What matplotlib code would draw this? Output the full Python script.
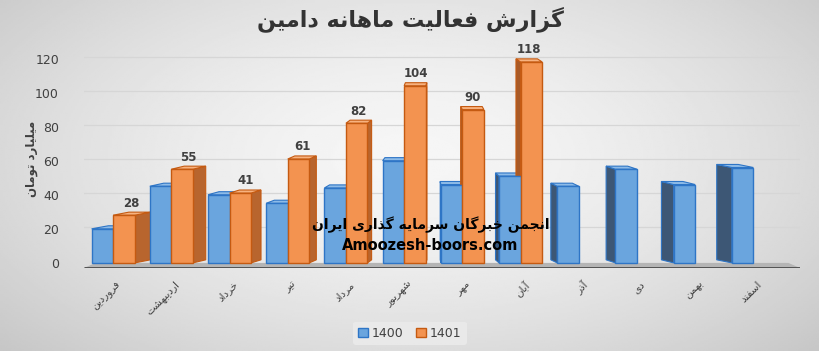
import numpy as np
import matplotlib
matplotlib.use("Agg")
import matplotlib.pyplot as plt
from matplotlib.patches import Polygon

# ---------------- data ----------------
months = ["فروردین", "اردیبهشت", "خرداد", "تیر", "مرداد", "شهریور",
          "مهر", "آبان", "آذر", "دی", "بهمن", "اسفند"]
values_1400 = [20, 45, 40, 35, 44, 60, 46, 51, 45, 55, 46, 56]
values_1401 = [28, 55, 41, 61, 82, 104, 90, 118]
series_names = ["1400", "1401"]
yticks = [0, 20, 40, 60, 80, 100, 120]
title = "گزارش فعالیت ماهانه دامین"
ylabel = "میلیارد تومان"
watermark1 = "انجمن خبرگان سرمایه گذاری ایران"
watermark2 = "Amoozesh-boors.com"

# ---------------- simple Arabic/Persian shaping ----------------
FORMS = {
    '\u0627': ('\uFE8D', '\uFE8E', None, None),
    '\u0622': ('\uFE81', '\uFE82', None, None),
    '\u0628': ('\uFE8F', '\uFE90', '\uFE91', '\uFE92'),
    '\u067E': ('\uFB56', '\uFB57', '\uFB58', '\uFB59'),
    '\u062A': ('\uFE95', '\uFE96', '\uFE97', '\uFE98'),
    '\u062B': ('\uFE99', '\uFE9A', '\uFE9B', '\uFE9C'),
    '\u062C': ('\uFE9D', '\uFE9E', '\uFE9F', '\uFEA0'),
    '\u062D': ('\uFEA1', '\uFEA2', '\uFEA3', '\uFEA4'),
    '\u062E': ('\uFEA5', '\uFEA6', '\uFEA7', '\uFEA8'),
    '\u062F': ('\uFEA9', '\uFEAA', None, None),
    '\u0630': ('\uFEAB', '\uFEAC', None, None),
    '\u0631': ('\uFEAD', '\uFEAE', None, None),
    '\u0632': ('\uFEAF', '\uFEB0', None, None),
    '\u0698': ('\uFB8A', '\uFB8B', None, None),
    '\u0633': ('\uFEB1', '\uFEB2', '\uFEB3', '\uFEB4'),
    '\u0634': ('\uFEB5', '\uFEB6', '\uFEB7', '\uFEB8'),
    '\u0639': ('\uFEC9', '\uFECA', '\uFECB', '\uFECC'),
    '\u0641': ('\uFED1', '\uFED2', '\uFED3', '\uFED4'),
    '\u0644': ('\uFEDD', '\uFEDE', '\uFEDF', '\uFEE0'),
    '\u0645': ('\uFEE1', '\uFEE2', '\uFEE3', '\uFEE4'),
    '\u0646': ('\uFEE5', '\uFEE6', '\uFEE7', '\uFEE8'),
    '\u0647': ('\uFEE9', '\uFEEA', '\uFEEB', '\uFEEC'),
    '\u0648': ('\uFEED', '\uFEEE', None, None),
    '\u06CC': ('\uFBFC', '\uFBFD', '\uFBFE', '\uFBFF'),
    '\u06A9': ('\uFB8E', '\uFB8F', '\uFB90', '\uFB91'),
    '\u06AF': ('\uFB92', '\uFB93', '\uFB94', '\uFB95'),
}


def shape(text):
    chars = list(text)
    out = []
    for i, c in enumerate(chars):
        if c not in FORMS:
            out.append(c)
            continue
        prev = chars[i - 1] if i > 0 else None
        nxt = chars[i + 1] if i + 1 < len(chars) else None
        jp = prev in FORMS and FORMS[prev][2] is not None
        jn = FORMS[c][2] is not None and nxt in FORMS
        f = FORMS[c]
        if jp and jn:
            g = f[3]
        elif jp:
            g = f[1]
        elif jn:
            g = f[2]
        else:
            g = f[0]
        out.append(g)
    return "".join(reversed(out))


plt.rcParams['font.family'] = ['DejaVu Sans']

fig = plt.figure(figsize=(8.2, 3.51), dpi=100)

# background radial gradient
bg = fig.add_axes([0, 0, 1, 1], zorder=-10)
yy, xx = np.mgrid[0:1:200j, 0:1:400j]
r = np.sqrt(((xx - 0.5) / 0.75) ** 2 + ((yy - 0.45) / 0.9) ** 2)
img = np.clip(0.965 - 0.22 * r ** 1.6, 0, 1)
bg.imshow(img, cmap='gray', vmin=0, vmax=1, aspect='auto', extent=[0, 1, 0, 1])
bg.axis('off')

ax = fig.add_axes([84 / 820, (351 - 268) / 351, (800 - 84) / 820, (268 - 50) / 351])
ax.set_facecolor('none')
ax.set_xlim(-0.5, 11.8)
ax.set_ylim(-3, 125)

n = len(months)
x = np.arange(n)
w = 0.37
xc = 5.6
k = 0.05
dy = 1.8

# gridlines
for t in yticks[1:]:
    ax.plot([-0.5, 11.8], [t + 1, t + 1], color='#d6d6d6', lw=0.9, zorder=0)

# floor
ax.add_patch(Polygon([[-0.5, -3], [11.8, -3], [11.6, 0], [-0.3, 0]],
                     closed=True, facecolor='#b5b5b5', edgecolor='none', zorder=1))
ax.plot([-0.5, 11.8], [-3, -3], color='#4a4a4a', lw=2, zorder=2, solid_capstyle='butt')

styles = {
    "1400": dict(front='#6aa5de', edge='#2e75c6', side='#3d5775', side_l='#4a7fbf', top='#8dbbe8'),
    "1401": dict(front='#f39350', edge='#c55a11', side='#a85a28', side_l='#b8652e', top='#f7b27f'),
}


def draw_bar(x0, v, st):
    x1 = x0 + w
    mid = (x0 + x1) / 2
    dx = -k * (mid - xc)
    if dx > 0:
        xe = x1
        col = st['side_l']
    else:
        xe = x0
        col = st['side']
    side = Polygon([[xe, 0], [xe + dx, dy], [xe + dx, v + dy], [xe, v]], closed=True,
                   facecolor=col, edgecolor=st['edge'], lw=0.8, zorder=3)
    ax.add_patch(side)
    top = Polygon([[x0, v], [x0 + dx, v + dy], [x1 + dx, v + dy], [x1, v]], closed=True,
                  facecolor=st['top'], edgecolor=st['edge'], lw=0.8, zorder=3)
    ax.add_patch(top)


# back faces first
for i, v in enumerate(values_1400):
    draw_bar(x[i] - w, v, styles["1400"])
for i, v in enumerate(values_1401):
    draw_bar(x[i], v, styles["1401"])

b1 = ax.bar(x - w, values_1400, width=w, align='edge', color=styles["1400"]['front'],
            edgecolor=styles["1400"]['edge'], lw=1.0, zorder=5, label=series_names[0])
b2 = ax.bar(x[:len(values_1401)], values_1401, width=w, align='edge',
            color=styles["1401"]['front'], edgecolor=styles["1401"]['edge'], lw=1.0,
            zorder=5, label=series_names[1])

for i, v in enumerate(values_1401):
    mid = x[i] + w / 2
    ax.text(mid - k * (mid - xc) / 2, v + dy + 1.5, str(v), ha='center', va='bottom',
            fontsize=8.5, fontweight='bold', color='#404040', zorder=6)

# axes styling
for s in ax.spines.values():
    s.set_visible(False)
ax.set_yticks(yticks)
ax.set_yticklabels([str(t) for t in yticks], fontsize=9, color='#404040')
ax.tick_params(axis='y', length=0, pad=18)
ax.set_xticks(x + 0.05)
ax.set_xticklabels([shape(m) for m in months], rotation=45, ha='right', va='top',
                   rotation_mode='anchor', fontsize=7.5, color='#404040')
ax.tick_params(axis='x', length=0, pad=8)

ax.set_ylabel(shape(ylabel), fontsize=8.5, fontweight='bold', color='#404040', labelpad=6)
ax.yaxis.set_label_coords(-0.064, 0.5)

fig.text(0.5, 0.945, shape(title), ha='center', va='center', fontsize=16,
         fontweight='bold', color='#333333')

ax.text(5.45, 22.5, shape(watermark1), ha='center', va='center', fontsize=10,
        fontweight='bold', color='black', zorder=7)
ax.text(5.45, 10, watermark2, ha='center', va='center', fontsize=10.5,
        fontweight='bold', color='black', zorder=7)

leg = fig.legend(handles=[b1, b2], labels=series_names, loc='center',
                 bbox_to_anchor=(0.5, 0.05), ncol=2, frameon=True, fontsize=9,
                 handlelength=0.8, handleheight=0.8, handletextpad=0.3,
                 columnspacing=1.0, borderpad=0.4)
leg.get_frame().set_facecolor('#ececec')
leg.get_frame().set_edgecolor('none')
leg.get_frame().set_alpha(0.8)
for t in leg.get_texts():
    t.set_color('#404040')

fig.savefig('out.png', dpi=100)
